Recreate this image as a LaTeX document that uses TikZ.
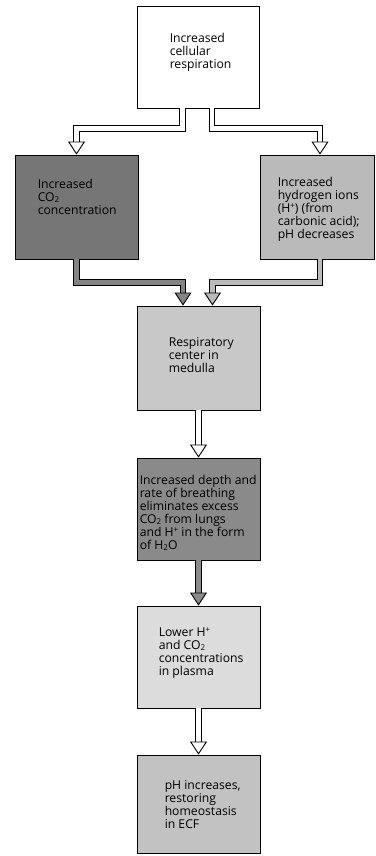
\documentclass[tikz,border=0pt]{standalone}
\usepackage{fontspec}
\setmainfont{Open Sans}
\usepackage{xcolor}
\usetikzlibrary{arrows.meta,positioning}
\definecolor{cotwo}{RGB}{118,118,118}
\definecolor{cotwopipe}{RGB}{132,132,132}
\definecolor{hydro}{RGB}{186,186,186}
\definecolor{medul}{RGB}{200,200,200}
\definecolor{breath}{RGB}{138,138,138}
\definecolor{plasma}{RGB}{220,220,220}
\definecolor{restore}{RGB}{194,194,194}
\newcommand{\chemsub}[1]{\raisebox{-0.12em}{\fontsize{8}{8}\selectfont #1}}
\newcommand{\ionsup}[1]{\raisebox{0.3em}{\fontsize{8}{8}\selectfont #1}}

\begin{document}
\begin{tikzpicture}[x=1pt, y=-1pt,
  box/.style={draw, line width=0.9pt, minimum width=123pt, minimum height=102pt, inner sep=0pt},
  txt/.style={align=left, inner sep=0pt, font=\fontsize{12.2}{13}\selectfont},
  pipe/.style={draw=black, line width=0.9pt, double=#1, double distance=4.4pt, -{Triangle[width=17pt,length=13pt,fill=#1,line width=0.9pt]}}]
  \useasboundingbox (0,0) rectangle (375,856);
  \node[box, minimum width=122pt] (resp) at (198,57) {};
  \node[box, fill=cotwo, minimum height=104pt] (co2) at (76.5,207) {};
  \node[box, fill=hydro, minimum width=114pt, minimum height=104pt] (hion) at (317,207) {};
  \node[box, fill=medul, minimum height=104pt] (center) at (198.5,358) {};
  \node[box, fill=breath] (breath) at (198.5,509) {};
  \node[box, fill=plasma] (lower) at (198.5,657) {};
  \node[box, fill=restore, minimum height=98pt] (restore) at (198.5,804) {};
  % texts
  \node[txt, below right=27pt and 33pt of resp.north west] (respt) {Increased\\cellular\\respiration};
  \node[txt, below right=24pt and 23pt of co2.north west] (co2t) {Increased\\CO\chemsub{2}\\concentration};
  \node[txt, below right=22pt and 18pt of hion.north west] (hiont) {Increased\\hydrogen ions\\(H\ionsup{+}) (from\\carbonic acid);\\pH decreases};
  \node[txt, below right=32pt and 32pt of center.north west] (centert) {Respiratory\\center in\\medulla};
  \node[txt, below right=17pt and 3pt of breath.north west] (breatht) {Increased depth and\\rate of breathing\\eliminates excess\\CO\chemsub{2} from lungs\\and H\ionsup{+} in the form\\of H\chemsub{2}O};
  \node[txt, below right=22pt and 22pt of lower.north west] (lowert) {Lower H\ionsup{+}\\and CO\chemsub{2}\\concentrations\\in plasma};
  \node[txt, below right=26pt and 28pt of restore.north west] (restoret) {pH increases,\\restoring\\homeostasis\\in ECF};
  % connectors
  \draw[pipe=white] ([xshift=-15.5pt]resp.south) -- ++(0,20) -| (co2.north);
  \draw[pipe=white] ([xshift=14pt]resp.south) -- ++(0,20) -| ([xshift=3pt]hion.north);
  \draw[pipe=cotwopipe] (co2.south) -- ++(0,23) -| ([xshift=-15.5pt]center.north);
  \draw[pipe=hydro] ([xshift=3pt]hion.south) -- ++(0,23) -| ([xshift=14pt]center.north);
  \draw[pipe=white] (center) -- (breath);
  \draw[pipe=breath] (breath) -- (lower);
  \draw[pipe=white] (lower) -- (restore);
\end{tikzpicture}
\end{document}
